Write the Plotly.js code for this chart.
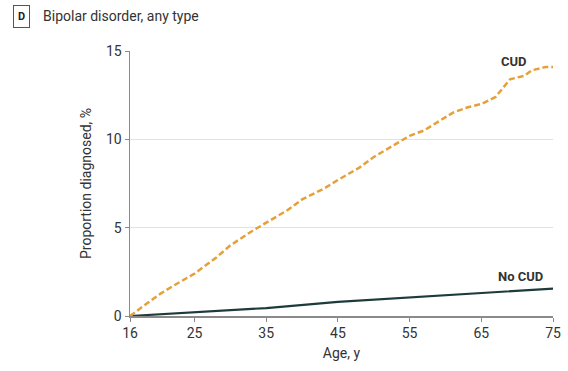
<!DOCTYPE html>
<html><head><meta charset="utf-8">
<script src="https://cdn.plot.ly/plotly-3.0.1.min.js"></script>
<style>html,body{margin:0;padding:0;background:#fff}#chart{width:568px;height:371px}</style>
</head><body><div id="chart"></div>
<script>
const cudAge = [16,18,20,22,25,28,30,33,35,38,40,43,45,48,50,53,55,57,59,61,63,65,67,68,69,70,71,72,74,75];
const cudVal = [0,0.6,1.2,1.7,2.4,3.3,4.0,4.8,5.3,6.0,6.6,7.2,7.7,8.4,9.0,9.7,10.2,10.5,11.0,11.5,11.8,12.0,12.4,12.9,13.4,13.5,13.6,13.9,14.1,14.1];
const noAge = [16,25,35,45,55,65,75];
const noVal = [0,0.2,0.45,0.8,1.05,1.3,1.55];
const xTicks = [16,25,35,45,55,65,75];
const yTicks = [0,5,10,15];
const FONT = 'Roboto,"Liberation Sans",sans-serif';

const traces = [
 {x: noAge, y: noVal, mode:'lines', line:{color:'#1d3b3a', width:2.2}, hoverinfo:'skip'},
 {x: cudAge, y: cudVal, mode:'lines', line:{color:'#e5a03a', width:2.5, dash:'6px,3px'}, hoverinfo:'skip'}
];
const layout = {
 width:568, height:371,
 margin:{l:130, r:15, t:51, b:55},
 paper_bgcolor:'#fff', plot_bgcolor:'#fff',
 showlegend:false,
 font:{family:FONT, size:13, color:'#333'},
 xaxis:{range:[16,75], tickvals:xTicks, ticktext:xTicks.map(String), showgrid:false, zeroline:false,
   showline:true, linecolor:'#8a8a8a', linewidth:1.5, ticks:'outside', ticklen:4, tickcolor:'#8a8a8a',
   tickfont:{family:FONT, size:14, color:'#333'},
   title:{text:'Age, y', font:{family:FONT, size:14, color:'#333'}, standoff:8}},
 yaxis:{range:[0,15], tickvals:yTicks, ticktext:yTicks.map(String), showgrid:true, gridcolor:'#e2e2e2', gridwidth:1,
   zeroline:false, showline:true, linecolor:'#8a8a8a', linewidth:1.5, ticks:'outside', ticklen:4, tickcolor:'#8a8a8a',
   tickfont:{family:FONT, size:14, color:'#333'},
   title:{text:'Proportion diagnosed, %', font:{family:FONT, size:14, color:'#333'}, standoff:11}},
 annotations:[
  {xref:'paper', yref:'paper', x:-0.276, y:1.132, xanchor:'left', yanchor:'middle', text:'<b>D</b>', showarrow:false,
   font:{family:FONT, size:11, color:'#222'}, bordercolor:'#555', borderwidth:1, borderpad:4, bgcolor:'#fff'},
  {xref:'paper', yref:'paper', x:-0.21, y:1.132, xanchor:'left', yanchor:'middle', text:'Bipolar disorder, any type', showarrow:false,
   font:{family:FONT, size:14, color:'#333'}},
  {xref:'x', yref:'y', x:69.6, y:14.4, xanchor:'center', yanchor:'middle', text:'<b>CUD</b>', showarrow:false,
   font:{family:FONT, size:13, color:'#333'}},
  {xref:'x', yref:'y', x:70.4, y:2.25, xanchor:'center', yanchor:'middle', text:'<b>No CUD</b>', showarrow:false,
   font:{family:FONT, size:13, color:'#333'}}
 ]
};
Plotly.newPlot('chart', traces, layout, {staticPlot:true, displayModeBar:false});
</script></body></html>
